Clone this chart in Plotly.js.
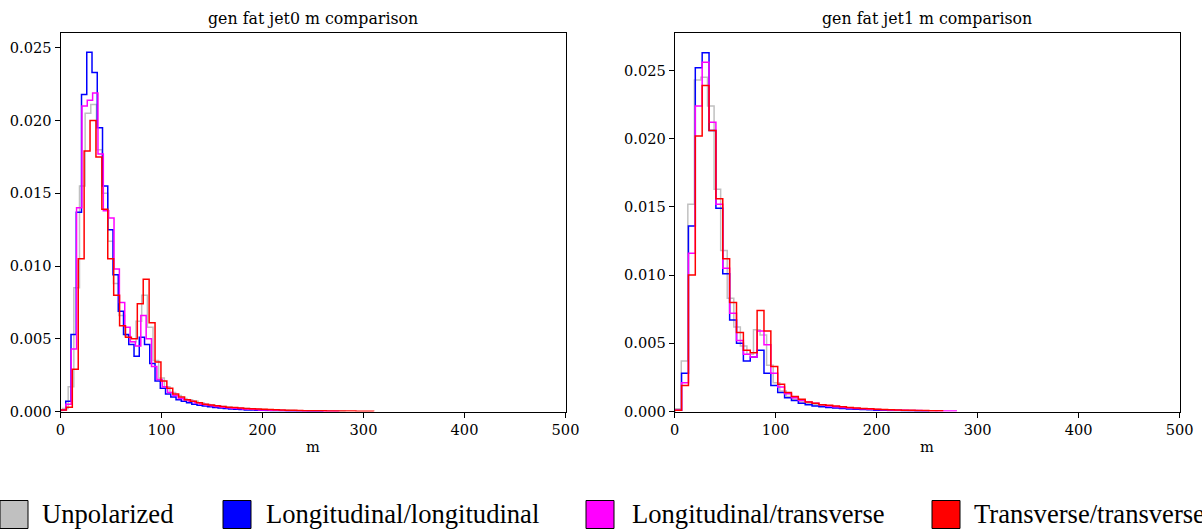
<!DOCTYPE html>
<html>
<head>
<meta charset="utf-8">
<script src="https://cdn.plot.ly/plotly-3.0.1.min.js"></script>
<style>
  html, body { margin: 0; padding: 0; background: #ffffff; }
  #chart { width: 1202px; height: 532px; }
</style>
</head>
<body>
<div id="chart"></div>
<script>
// ---------------- data (density per bin) ----------------
const seriesNames  = ['Unpolarized', 'Longitudinal/longitudinal', 'Longitudinal/transverse', 'Transverse/transverse'];
const seriesColors = ['#c0c0c0', '#0000ff', '#ff00ff', '#ff0000'];

const panelTitles = ['gen fat jet0 m comparison', 'gen fat jet1 m comparison'];
const xAxisLabel = 'm';
const xTickVals = [0, 100, 200, 300, 400, 500];
const yTickVals = [0, 0.005, 0.010, 0.015, 0.020, 0.025];

// jet0: bin start and bin width of each series' histogram
const jet0BinStart = [2, 0, 0, 0];
const jet0BinWidth = [5.6, 5.2, 5.3, 5.85];

const jet0Unpolarized = [0.0002, 0.0017, 0.0085, 0.0155, 0.0205, 0.0211, 0.0180, 0.0150, 0.0117, 0.0088,
  0.0066, 0.0052, 0.0048, 0.0062, 0.0080, 0.0058, 0.0035, 0.0023, 0.0017, 0.0013,
  0.0011, 0.0009, 0.0008, 0.0007, 0.0006, 0.0005, 0.00045, 0.0004, 0.00035, 0.0003,
  0.00026, 0.00023, 0.0002, 0.00018, 0.00016, 0.00014, 0.00012, 0.0001, 0.00009, 0.00008,
  0.00007, 0.00006, 0.00005, 0.00005, 0.00004, 0.00004, 0.00003, 0.00003, 0.00002, 0.00002];

const jet0LongLong = [0.0001, 0.0007, 0.0053, 0.0137, 0.0218, 0.0247, 0.0233, 0.0195, 0.0155, 0.0125,
  0.0094, 0.0069, 0.0053, 0.0046, 0.0038, 0.0051, 0.0046, 0.0033, 0.0021, 0.0016,
  0.0012, 0.0010, 0.0008, 0.0007, 0.0006, 0.0005, 0.00043, 0.00037, 0.00032, 0.00028,
  0.00024, 0.0002, 0.00017, 0.00015, 0.00013, 0.00011, 0.0001, 0.00009, 0.00008, 0.00007,
  0.00006, 0.00005, 0.00005, 0.00004, 0.00004, 0.00003, 0.00003, 0.00002, 0.00002, 0.00002];

const jet0LongTrans = [0.0001, 0.0005, 0.0043, 0.0140, 0.0210, 0.0214, 0.0219, 0.0177, 0.0138, 0.0133,
  0.0098, 0.0075, 0.0058, 0.0048, 0.0045, 0.0066, 0.0050, 0.0031, 0.0022, 0.0017,
  0.0013, 0.0011, 0.0009, 0.0008, 0.0007, 0.0006, 0.0005, 0.00045, 0.0004, 0.00035,
  0.0003, 0.00026, 0.00022, 0.0002, 0.00017, 0.00015, 0.00013, 0.00011, 0.0001, 0.00009,
  0.00008, 0.00007, 0.00006, 0.00005, 0.00005, 0.00004, 0.00004, 0.00003, 0.00003, 0.00002,
  0.00002, 0.00002];

const jet0TransTrans = [0.0001, 0.0003, 0.0029, 0.0105, 0.0179, 0.0200, 0.0175, 0.0139, 0.0105, 0.0080,
  0.0059, 0.0051, 0.0050, 0.0074, 0.0091, 0.0061, 0.0034, 0.0021, 0.0016, 0.0012,
  0.0010, 0.0008, 0.0007, 0.0006, 0.0005, 0.00045, 0.0004, 0.00035, 0.0003, 0.00027,
  0.00024, 0.00021, 0.00019, 0.00017, 0.00015, 0.00013, 0.00012, 0.0001, 0.00009, 0.00008,
  0.00007, 0.00006, 0.00006, 0.00005, 0.00005, 0.00004, 0.00004, 0.00003, 0.00003, 0.00003,
  0.00002, 0.00002, 0.00002];

// jet1
const jet1BinStart = [0, 0, 0, 0];
const jet1BinWidth = [6.5, 6.8, 6.8, 6.8];

const jet1Unpolarized = [0.0002, 0.0037, 0.0152, 0.0243, 0.0245, 0.0224, 0.0163, 0.0118, 0.0083, 0.0062,
  0.0048, 0.0042, 0.0060, 0.0056, 0.0034, 0.0021, 0.0015, 0.0011, 0.0009, 0.0007,
  0.0006, 0.0005, 0.00045, 0.0004, 0.00035, 0.0003, 0.00026, 0.00022, 0.0002, 0.00017,
  0.00015, 0.00013, 0.00011, 0.0001, 0.00009, 0.00008, 0.00007, 0.00006, 0.00005, 0.00004];

const jet1LongLong = [0.0001, 0.0028, 0.0136, 0.0252, 0.0263, 0.0206, 0.0149, 0.0101, 0.0067, 0.0050,
  0.0037, 0.0040, 0.0045, 0.0028, 0.0019, 0.0014, 0.0010, 0.0008, 0.0006, 0.0005,
  0.0004, 0.00035, 0.0003, 0.00026, 0.00022, 0.00019, 0.00016, 0.00014, 0.00012, 0.0001,
  0.00009, 0.00008, 0.00007, 0.00006, 0.00005, 0.00004, 0.00003];

const jet1LongTrans = [0.0001, 0.0021, 0.0116, 0.0224, 0.0256, 0.0212, 0.0152, 0.0105, 0.0072, 0.0052,
  0.0042, 0.0040, 0.0059, 0.0049, 0.0028, 0.0018, 0.0013, 0.0010, 0.0008, 0.0007,
  0.0006, 0.0005, 0.0004, 0.00035, 0.0003, 0.00026, 0.00022, 0.0002, 0.00017, 0.00015,
  0.00013, 0.00011, 0.0001, 0.00009, 0.00008, 0.00007, 0.00006, 0.00005, 0.00004, 0.00004,
  0.00003];

const jet1TransTrans = [0.0001, 0.0019, 0.0100, 0.0202, 0.0239, 0.0206, 0.0156, 0.0112, 0.0080, 0.0058,
  0.0045, 0.0043, 0.0074, 0.0059, 0.0033, 0.0020, 0.0014, 0.0011, 0.0009, 0.0007,
  0.0006, 0.0005, 0.00045, 0.0004, 0.00035, 0.0003, 0.00026, 0.00022, 0.0002, 0.00017,
  0.00015, 0.00013, 0.00011, 0.0001, 0.00009, 0.00008, 0.00007, 0.00006, 0.00005];

// ---------------- build ----------------
const W = 1202, H = 532;
const px = v => v / W;          // pixel -> paper x
const py = v => 1 - v / H;      // pixel -> paper y

function stepTrace(vals, start, width, color, xa, ya) {
  const x = [start], y = [0];
  for (let i = 0; i < vals.length; i++) { x.push(start + i * width); y.push(vals[i]); }
  x.push(start + vals.length * width); y.push(0);
  return {
    type: 'scatter', mode: 'lines', x: x, y: y, xaxis: xa, yaxis: ya,
    line: { shape: 'hv', color: color, width: 1.5, simplify: false },
    showlegend: false, hoverinfo: 'skip'
  };
}

const jet0 = [jet0Unpolarized, jet0LongLong, jet0LongTrans, jet0TransTrans];
const jet1 = [jet1Unpolarized, jet1LongLong, jet1LongTrans, jet1TransTrans];

const traces = [];
jet0.forEach((v, i) => traces.push(stepTrace(v, jet0BinStart[i], jet0BinWidth[i], seriesColors[i], 'x', 'y')));
jet1.forEach((v, i) => traces.push(stepTrace(v, jet1BinStart[i], jet1BinWidth[i], seriesColors[i], 'x2', 'y2')));

const tickFont = { family: 'DejaVu Serif', size: 14.6, color: '#000000' };
function xAxis(d0, d1, anchor) {
  return {
    domain: [px(d0), px(d1)], anchor: anchor, range: [0, 500],
    tickvals: xTickVals, ticks: 'outside', ticklen: 5, tickwidth: 1, tickcolor: '#000',
    showline: true, mirror: true, linecolor: '#000', linewidth: 1,
    showgrid: false, zeroline: false, tickfont: tickFont, fixedrange: true
  };
}
function yAxis(top, anchor) {
  return {
    domain: [py(411.5), py(33.3)], anchor: anchor, range: [0, top],
    tickvals: yTickVals, tickformat: '.3f', ticks: 'outside', ticklen: 5, tickwidth: 1, tickcolor: '#000',
    showline: true, mirror: true, linecolor: '#000', linewidth: 1,
    showgrid: false, zeroline: false, tickfont: tickFont, fixedrange: true
  };
}

const annotations = [];
const shapes = [];
const panels = [[60.5, 565.5], [674.7, 1179.7]];
panels.forEach((p, i) => {
  annotations.push({ text: panelTitles[i], xref: 'paper', yref: 'paper', x: px((p[0] + p[1]) / 2), y: py(18.5),
    xanchor: 'center', yanchor: 'middle', showarrow: false, font: { family: 'DejaVu Serif', size: 15.8, color: '#000' } });
  annotations.push({ text: xAxisLabel, xref: 'paper', yref: 'paper', x: px((p[0] + p[1]) / 2), y: py(446),
    xanchor: 'center', yanchor: 'middle', showarrow: false, font: { family: 'DejaVu Serif', size: 14.6, color: '#000' } });
});

// legend row
const legendBoxX = [0, 223, 586, 932];
const legendTextX = [40, 264, 630, 972];
seriesNames.forEach((name, i) => {
  shapes.push({ type: 'rect', xref: 'paper', yref: 'paper',
    x0: px(legendBoxX[i]), x1: px(legendBoxX[i] + 28), y0: py(528.5), y1: py(500.5),
    fillcolor: seriesColors[i], line: { color: '#000', width: 1 } });
  annotations.push({ text: name, xref: 'paper', yref: 'paper', x: px(legendTextX[i]), y: py(514),
    xanchor: 'left', yanchor: 'middle', showarrow: false,
    font: { family: 'Liberation Serif', size: 26.6, color: '#000' } });
});

const layout = {
  width: W, height: H,
  margin: { l: 0, r: 0, t: 0, b: 0, pad: 0 },
  paper_bgcolor: '#ffffff', plot_bgcolor: '#ffffff',
  showlegend: false,
  xaxis: xAxis(60.5, 565.5, 'y'),
  yaxis: yAxis(0.0260, 'x'),
  xaxis2: xAxis(674.7, 1179.7, 'y2'),
  yaxis2: yAxis(0.02773, 'x2'),
  annotations: annotations,
  shapes: shapes
};

Plotly.newPlot('chart', traces, layout, { staticPlot: true, displayModeBar: false });
</script>
</body>
</html>
